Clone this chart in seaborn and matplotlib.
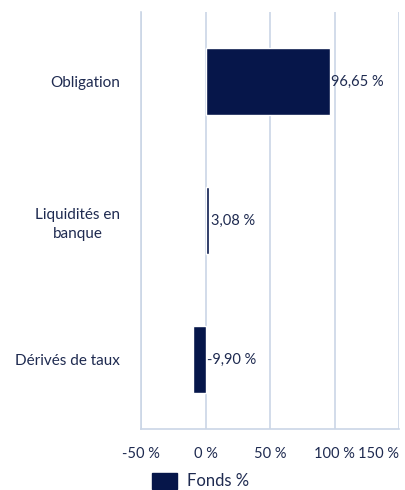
import matplotlib
matplotlib.use("Agg")
import matplotlib.pyplot as plt
import seaborn as sns
import pandas as pd
from matplotlib.patches import Patch

categories = ["Obligation", "Liquidités en\nbanque", "Dérivés de taux"]
values = [96.65, 3.08, -9.90]
xticks = [-50, 0, 50, 100, 150]
xtick_labels = ["-50 %", "0 %", "50 %", "100 %", "150 %"]
series_name = "Fonds %"

sns.set_theme(style="white")
plt.rcParams["font.family"] = ["Lato", "DejaVu Sans"]

navy = "#06164A"
text_col = "#1E2A50"
grid_col = "#CBD6E6"

df = pd.DataFrame({"cat": categories, "val": values})

fig = plt.figure(figsize=(4.05, 4.9), dpi=100)
ax = fig.add_axes([141 / 405, 1 - 429 / 490, (399 - 141) / 405, (429 - 12) / 490])

sns.barplot(data=df, y="cat", x="val", orient="h", color=navy, width=0.48,
            saturation=1, ax=ax, zorder=3)

ax.set_xlim(-50, 150)
ax.set_ylim(2.5, -0.5)
ax.set_xticks(xticks)
ax.set_xticklabels(xtick_labels)
for lab in ax.get_xticklabels():
    lab.set_color(text_col)
    lab.set_fontsize(10.5)
ax.get_xticklabels()[-1].set_horizontalalignment("right")
ax.get_xticklabels()[-1].set_x(150)
ax.tick_params(axis="x", length=0, pad=13)
ax.xaxis.grid(True, color=grid_col, linewidth=1.2, zorder=0)
ax.set_axisbelow(True)

ax.set_yticks([0, 1, 2])
ax.set_yticklabels(categories, multialignment="center", linespacing=1.45)
ax.tick_params(axis="y", which="major", length=0, pad=15, labelsize=11, labelcolor=text_col)
ax.set_yticks([-0.5, 0.5, 1.5, 2.5], minor=True)
ax.tick_params(axis="y", which="minor", length=9.4, width=1.2, color=grid_col)

ax.set_xlabel("")
ax.set_ylabel("")

for s in ["top", "right"]:
    ax.spines[s].set_visible(False)
for s in ["left", "bottom"]:
    ax.spines[s].set_color(grid_col)
    ax.spines[s].set_linewidth(1.2)

for i, v in enumerate(values):
    ax.text(max(v, 0) + 0.8, i, f"{v:.2f} %".replace(".", ","), va="center", ha="left",
            fontsize=10.5, color=text_col, zorder=4)

handles = [Patch(facecolor=navy, edgecolor=navy, label=series_name)]
fig.legend(handles=handles, loc="center", bbox_to_anchor=(201 / 405, 1 - 481 / 490),
           frameon=False, fontsize=12, labelcolor=text_col, handlelength=1.5,
           handleheight=1.1, handletextpad=0.6)

fig.savefig("out.png", dpi=100)
